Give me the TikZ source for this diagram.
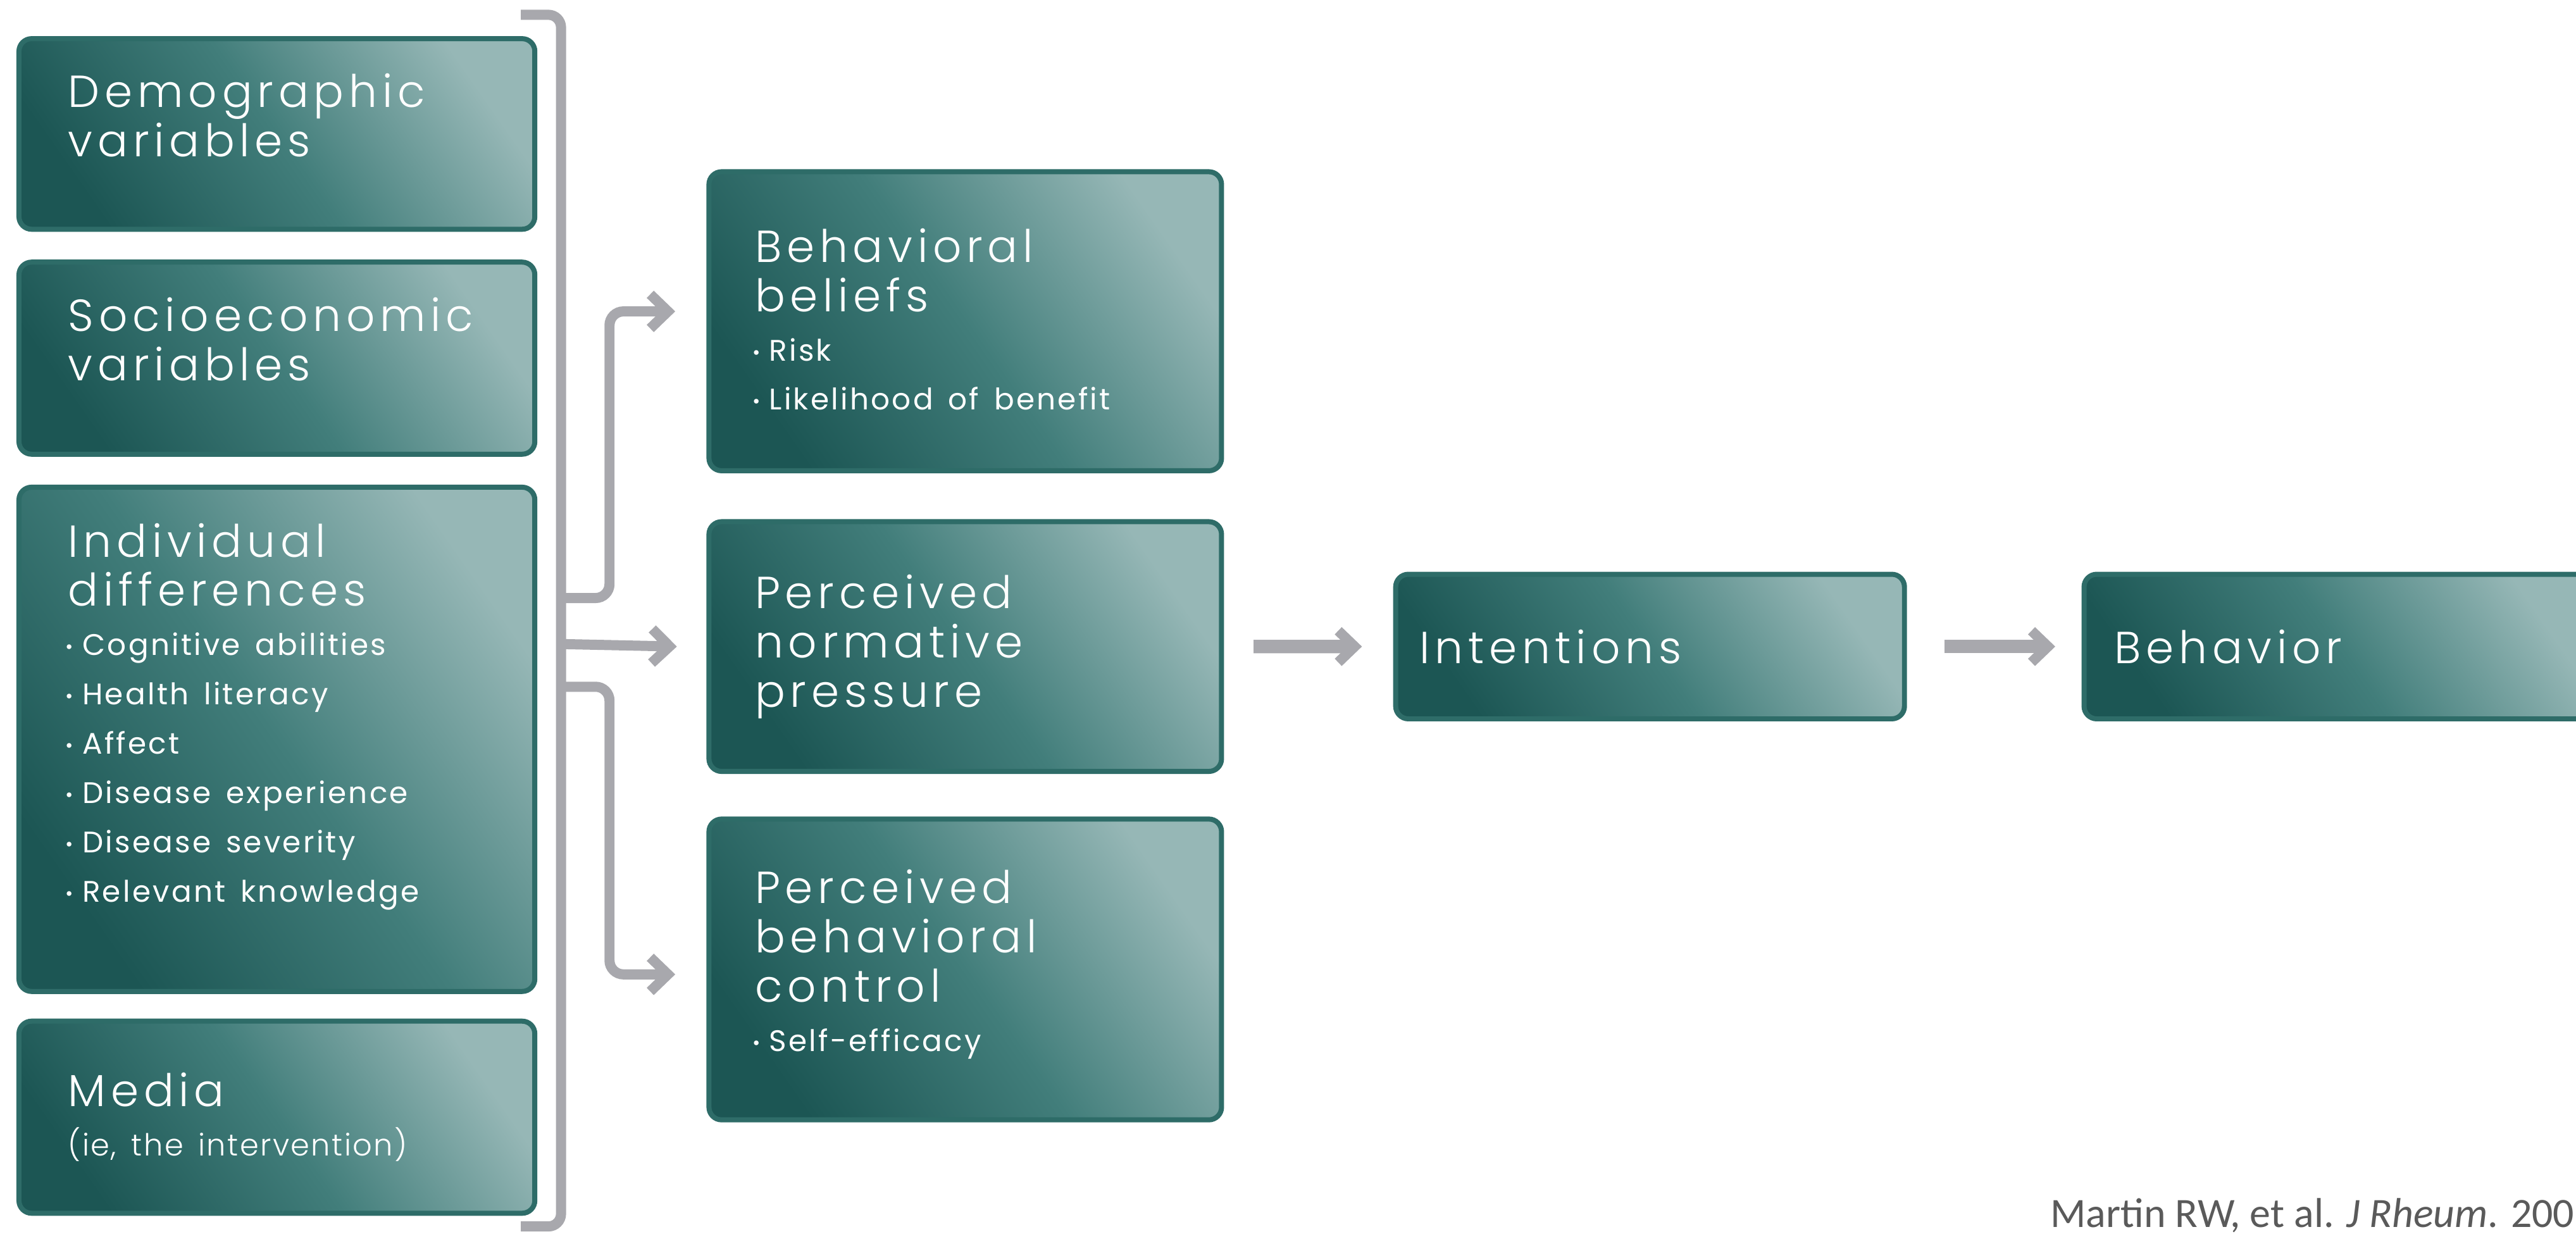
\documentclass[tikz,border=0pt]{standalone}
\usepackage{fontspec}
\setmainfont{Poppins}
\newfontfamily\thinfont{Poppins Light}[LetterSpace=11]
\newfontfamily\subfont{Poppins Light}[LetterSpace=5]
\newfontfamily\itemfont{Poppins}[LetterSpace=7, WordSpace=0.9]
\newfontfamily\notefont{Carlito}
\usetikzlibrary{arrows.meta,calc}

\definecolor{tealdark}{RGB}{28,86,84}
\definecolor{tealmid}{RGB}{66,126,123}
\definecolor{teallight}{RGB}{150,183,182}
\definecolor{tealedge}{RGB}{46,108,104}
\definecolor{linkgray}{RGB}{168,168,173}
\definecolor{citegray}{RGB}{90,90,90}

% extra room under a text block, to lift it inside its box
\newcommand\padbelow[1]{\par\vspace{#1}\hrule height 0pt width 0pt}
% one bullet line in the smaller face
\newcommand\itm[1]{{\itemfont\fontsize{23.5}{39}\selectfont\hspace{-2pt}{\fontsize{15}{39}\selectfont\raisebox{1.5pt}{•}}\hspace{7pt}#1}}

\begin{document}
\begin{tikzpicture}[x=1.3pt, y=-1.3pt,
  box/.style={rectangle, rounded corners=10pt, draw=tealedge, line width=4pt,
    top color=teallight, bottom color=tealdark, middle color=tealmid,
    shading angle=-55, anchor=north west, align=left, text=white,
    inner ysep=0pt, font=\thinfont\fontsize{35.5}{39}\selectfont},
  lbox/.style={box, text width=330.2pt, inner xsep=39pt},
  mbox/.style={box, text width=332.8pt, inner xsep=36.4pt},
  link/.style={draw=linkgray, line width=8pt},
  tip/.style={-{Straight Barb[length=14pt, width=27pt]}},
  bigtip/.style={line width=10.6pt, -{Straight Barb[length=13pt, width=25pt, line width=8pt]}},
  note/.style={font=\notefont\fontsize{33}{38}\selectfont, text=citegray, inner sep=0pt}]

\path[use as bounding box] (0,0) rectangle (1568,754);
\clip (0,0) rectangle (1568,754);
\fill[white] (0,0) rectangle (1568,754);

% left column: the groups of background factors
\node[lbox, minimum height=150.8pt] (demo) at (10,22) {Demographic\\variables\padbelow{30pt}};
\node[lbox, minimum height=152pt] (socio) at (10,158) {Socioeconomic\\variables\padbelow{30pt}};
\node[lbox, minimum height=399pt] (indiv) at (10,295) {Individual\\differences\\
  \itm{Cognitive abilities}\\\itm{Health literacy}\\\itm{Affect}\\
  \itm{Disease experience}\\\itm{Disease severity}\\\itm{Relevant knowledge}\padbelow{36pt}};
\node[lbox, minimum height=152pt] (media) at (10,620) {Media\\
  {\subfont\fontsize{24}{39}\selectfont(ie, the intervention)}};

% middle column: the three belief constructs
\node[mbox, minimum height=236.6pt] (bb) at (430,103) {Behavioral\\beliefs\\
  \itm{Risk}\\\itm{Likelihood of benefit}\padbelow{3pt}};
\node[mbox, minimum height=197.6pt] (pn) at (430,316) {Perceived\\normative\\pressure};
\node[mbox, minimum height=238pt] (pc) at (430,497) {Perceived\\behavioral\\control\\
  \itm{Self-efficacy}\padbelow{8pt}};

% right: intentions and behavior
\node[box, text width=364.6pt, inner xsep=19pt, minimum height=114.4pt] (int) at (848,348) {Intentions};
\node[box, text width=357.6pt, inner xsep=24pt, minimum height=114.4pt] (beh) at (1267,348) {Behavior};

% bracket gathering the left column
\coordinate (brTop) at (317,9);
\coordinate (brBot) at (317,746.5);
\draw[link, rounded corners=10pt] (brTop) -- (341.5,9) -- (341.5,746.5) -- (brBot);

% branches from the bracket
\coordinate (bu) at (341.5,364);
\coordinate (bm) at (341.5,392);
\coordinate (bl) at (341.5,418);
\draw[link, tip, rounded corners=11pt] (bu) -| ($(bb.west)+(-59,-6)$) -- ($(bb.west)+(-19,-6)$);
\draw[link, tip] (bm) -- ($(pn.west)+(-18,0)$);
\draw[link, tip, rounded corners=11pt] (bl) -| ($(pc.west)+(-59,3)$) -- ($(pc.west)+(-19,3)$);

% main chain
\draw[link, bigtip] ($(pn.east)+(18,0)$) -- ($(int.west)+(-19,0)$);
\draw[link, bigtip] ($(int.east)+(23,0)$) -- ($(beh.west)+(-16,0)$);

\node[note, anchor=base west] (cite) at (1248,747) {Martin RW, et al. \textit{J Rheum}. 200};
\end{tikzpicture}
\end{document}
